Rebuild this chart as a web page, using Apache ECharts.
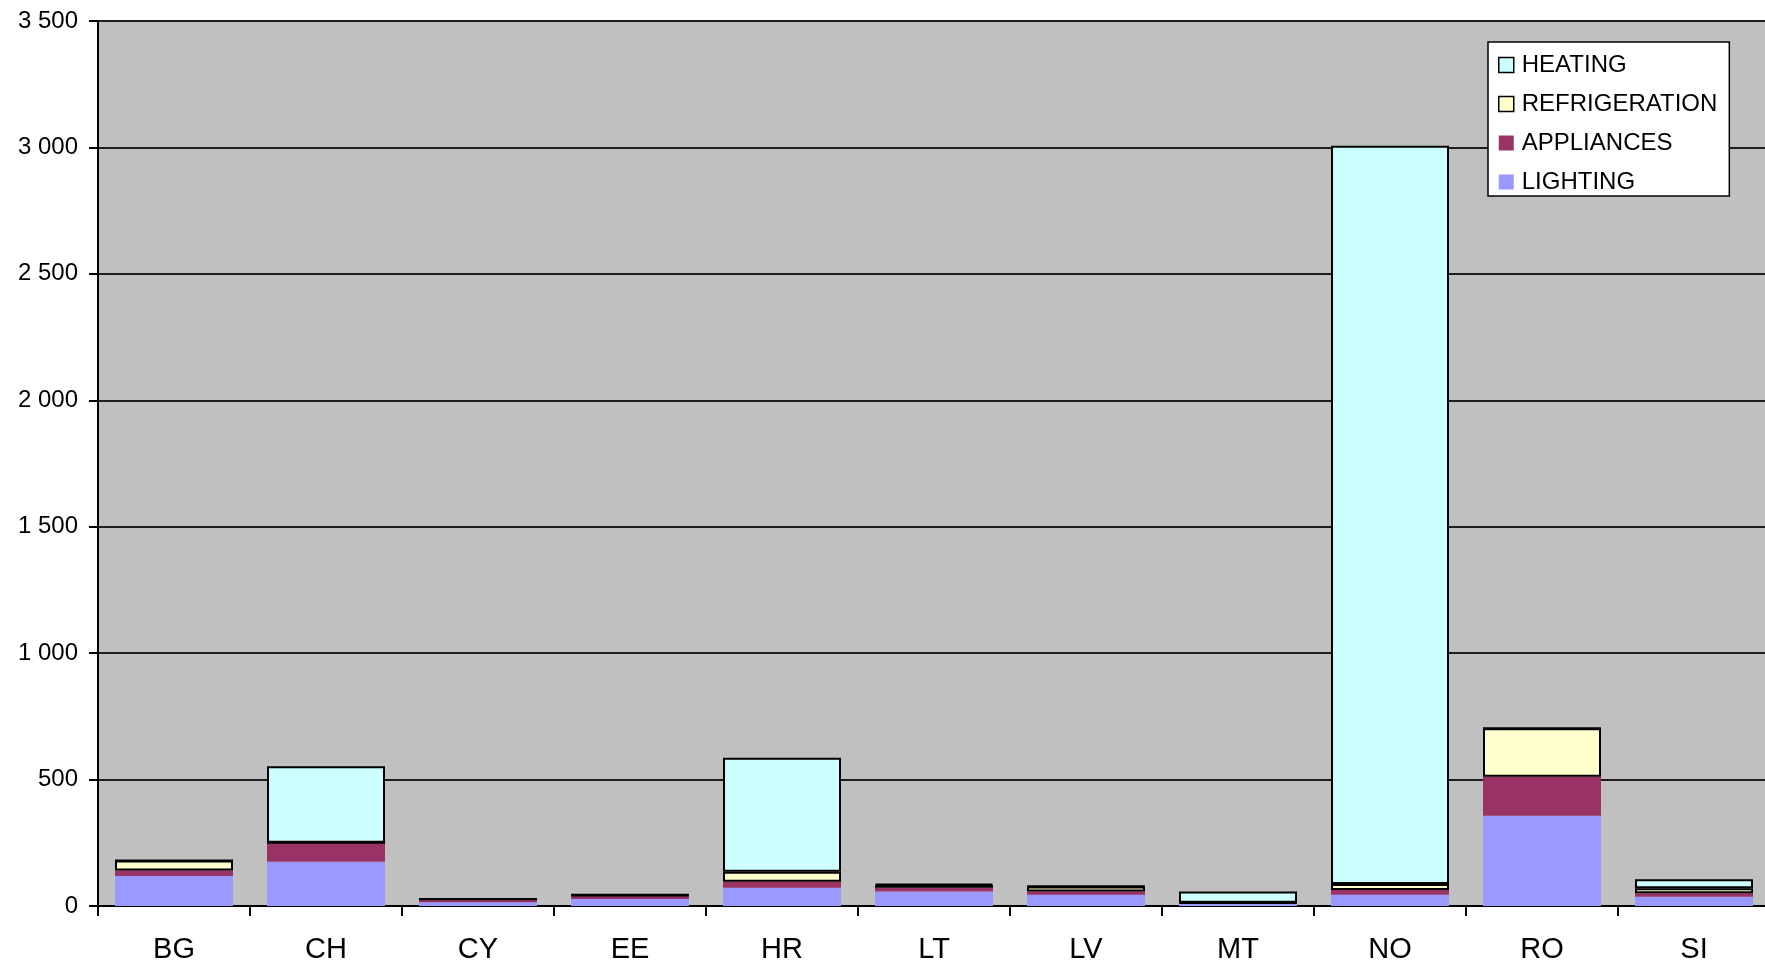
<!DOCTYPE html>
<html>
<head>
<meta charset="utf-8">
<script src="https://cdn.jsdelivr.net/npm/echarts@6/dist/echarts.min.js"></script>
<style>
  html, body { margin: 0; padding: 0; background: #ffffff; }
  #chart { width: 1765px; height: 964px; }
</style>
</head>
<body>
<div id="chart"></div>
<script>
// Countries on the category axis
const categories = ['BG', 'CH', 'CY', 'EE', 'HR', 'LT', 'LV', 'MT', 'NO', 'RO', 'SI'];

// Stacked end-use values per country (bottom to top)
const lighting      = [119, 175, 15, 28,  72, 57, 44,  8,   44, 357, 37];
const appliances    = [ 21,  75, 10, 12,  24, 15, 13,  3,   19, 154, 13];
const refrigeration = [ 40,   0,  3,  4,  39, 11, 20,  2,   24, 192, 20];
const heating       = [  0, 303,  0,  0, 451,  5,  2, 44, 2920,   0, 36];

// Value axis range and step
const yMin = 0;
const yMax = 3500;
const yStep = 500;

const FONT = "'Liberation Sans', Arial, sans-serif";

const colors = {
  heating: '#CCFFFF',
  refrigeration: '#FFFFCC',
  appliances: '#993366',
  lighting: '#9999FF'
};

// "3 500" style thousands grouping
function groupThousands(v) {
  return String(v).replace(/\B(?=(\d{3})+(?!\d))/g, ' ');
}

const chart = echarts.init(document.getElementById('chart'), null, { renderer: 'canvas' });

const barWidth = 118;

function barSeries(name, data, color, bordered) {
  return {
    name: name,
    type: 'bar',
    stack: 'total',
    data: data,
    barWidth: barWidth,
    itemStyle: {
      color: color,
      borderColor: '#000000',
      borderWidth: bordered ? 2 : 0
    },
    emphasis: { disabled: true },
    animation: false
  };
}

const option = {
  backgroundColor: '#ffffff',
  animation: false,
  grid: {
    left: 98,
    top: 21,
    width: 1672,
    height: 885,
    show: true,
    backgroundColor: '#C0C0C0',
    borderWidth: 0,
    containLabel: false,
    outerBoundsMode: 'none'
  },
  legend: {
    orient: 'vertical',
    left: 1488,
    top: 42,
    backgroundColor: '#ffffff',
    borderColor: '#000000',
    borderWidth: 1.5,
    borderRadius: 0,
    padding: [11, 12, 2, 10],
    itemWidth: 15,
    itemHeight: 15,
    itemGap: 15,
    icon: 'rect',
    textStyle: {
      fontFamily: FONT,
      fontSize: 24,
      color: '#000000',
      lineHeight: 20,
      padding: [0, 0, 0, 3]
    },
    selectedMode: false,
    data: [
      { name: 'HEATING', itemStyle: { color: colors.heating, borderColor: '#000', borderWidth: 1.5 } },
      { name: 'REFRIGERATION', itemStyle: { color: colors.refrigeration, borderColor: '#000', borderWidth: 1.5 } },
      { name: 'APPLIANCES', itemStyle: { color: colors.appliances, borderWidth: 0 } },
      { name: 'LIGHTING', itemStyle: { color: colors.lighting, borderWidth: 0 } }
    ]
  },
  xAxis: {
    type: 'category',
    data: categories,
    boundaryGap: true,
    axisLine: { show: true, lineStyle: { color: '#000000', width: 2 } },
    axisTick: { show: true, length: 10, inside: false, alignWithLabel: false, lineStyle: { color: '#000000', width: 2 } },
    axisLabel: {
      fontFamily: FONT,
      fontSize: 29,
      color: '#000000',
      margin: 29,
      interval: 0
    },
    splitLine: { show: false }
  },
  yAxis: {
    type: 'value',
    min: yMin,
    max: yMax,
    interval: yStep,
    axisLine: { show: true, lineStyle: { color: '#000000', width: 2 } },
    axisTick: { show: true, length: 9, inside: false, lineStyle: { color: '#000000', width: 2 } },
    axisLabel: {
      fontFamily: FONT,
      fontSize: 24,
      color: '#000000',
      margin: 20,
      formatter: function (v) { return groupThousands(v); }
    },
    splitLine: { show: true, lineStyle: { color: '#1e1e1e', width: 2 } }
  },
  series: [
    barSeries('LIGHTING', lighting, colors.lighting, false),
    barSeries('APPLIANCES', appliances, colors.appliances, false),
    barSeries('REFRIGERATION', refrigeration, colors.refrigeration, true),
    barSeries('HEATING', heating, colors.heating, true)
  ]
};

chart.setOption(option);
</script>
</body>
</html>
